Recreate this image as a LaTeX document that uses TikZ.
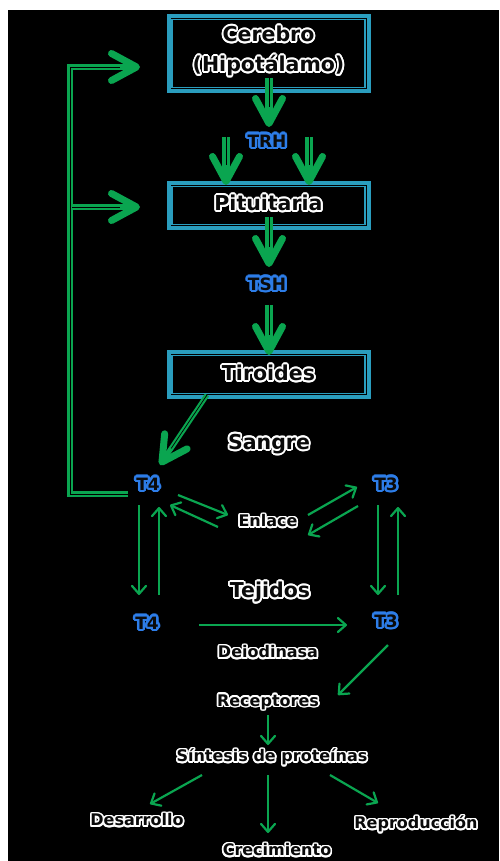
\documentclass[tikz,border=0pt]{standalone}
\usepackage{fontspec}
\setmainfont{DejaVu Sans}
\usetikzlibrary{arrows.meta,calc}

\definecolor{grn}{RGB}{10,165,80}
\definecolor{boxteal}{RGB}{42,157,190}
\definecolor{hblue}{RGB}{45,125,232}
\definecolor{ink}{RGB}{10,10,10}

% label with a rim: copies of the text on two rings in the rim colour,
% then the dark text itself on top
% #1 name, #2 position, #3 style, #4 rim colour, #5 rim radius, #6 text
\newcommand\rimlabel[6]{%
  \foreach \a in {0,20,...,340}{%
    \node[#3, text=#4] at ($(#2)+(\a:#5)$) {#6};
    \node[#3, text=#4] at ($(#2)+(\a:0.5*#5)$) {#6};}
  \node[#3, text=ink] (#1) at (#2) {#6};}

\begin{document}
\begin{tikzpicture}[x=1pt,y=-1pt,
  lbl/.style={font=\bfseries\fontsize{16}{20}\selectfont, inner sep=0pt},
  biglbl/.style={font=\bfseries\fontsize{20.5}{30}\selectfont, inner sep=0pt, align=center},
  hormone/.style={font=\bfseries\fontsize{17}{20}\selectfont, inner sep=0pt},
  organ/.style={draw=boxteal, line width=4pt, fill=black, minimum width=200pt},
  innerframe/.style={draw=boxteal, line width=1.2pt},
  bigtip/.style={-{Straight Barb[length=25pt,width=27pt,line width=7pt,round]}},
  bigarrow/.style={draw=grn, line width=#1, bigtip,
                   postaction={draw=black, line width=0.7pt, -, shorten >=20pt}},
  bigarrow/.default=8pt,
  fbline/.style={draw=grn, line width=5.5pt, line join=miter,
                 postaction={draw=black, line width=0.6pt, -, shorten >=20pt}},
  thin/.style={draw=grn, line width=2.2pt,
               -{Straight Barb[length=8pt,width=14pt,round]}}
]
\useasboundingbox (0,0) rectangle (499,861);
\fill[white] (0,0) rectangle (499,861);
\fill[black] (8,10) rectangle (499,861);

% glands
\node[organ, minimum height=75pt] (cer) at (268.5,53.5) {};
\node[organ, minimum height=45pt] (pit) at (268.5,205.5) {};
\node[organ, minimum height=45pt] (tir) at (268.5,374.5) {};
\foreach \b in {cer,pit,tir}
  \draw[innerframe] ([shift={(5.5,5.5)}]\b.north west)
                    rectangle ([shift={(-5.5,-5.5)}]\b.south east);
\rimlabel{cerT}{268.5,51}{biglbl}{white}{1.8}{Cerebro\\(Hipotálamo)}
\rimlabel{pitT}{268.5,203}{biglbl}{white}{1.8}{Pituitaria}
\rimlabel{tirT}{268.5,373}{biglbl}{white}{1.8}{Tiroides}

% hormones
\rimlabel{trh}{267,141}{hormone}{hblue}{2.4}{TRH}
\rimlabel{tsh}{267,284}{hormone}{hblue}{2.4}{TSH}
\rimlabel{t4a}{148,484}{hormone}{hblue}{2.4}{T4}
\rimlabel{t3a}{386,484}{hormone}{hblue}{2.4}{T3}
\rimlabel{t4b}{147,623}{hormone}{hblue}{2.4}{T4}
\rimlabel{t3b}{386,621}{hormone}{hblue}{2.4}{T3}

% other labels
\rimlabel{sangre}{269,444}{biglbl}{white}{1.8}{Sangre}
\rimlabel{tejidos}{270,592}{biglbl}{white}{1.8}{Tejidos}
\rimlabel{enlace}{268,521}{lbl}{white}{1.6}{Enlace}
\rimlabel{deio}{268,652}{lbl}{white}{1.6}{Deiodinasa}
\rimlabel{rec}{268,702}{lbl}{white}{1.6}{Receptores}
\rimlabel{sint}{272,757}{lbl}{white}{1.6}{Síntesis de proteínas}
\rimlabel{des}{137,820}{lbl}{white}{1.6}{Desarrollo}
\rimlabel{cre}{277,850}{lbl}{white}{1.6}{Crecimiento}
\rimlabel{rep}{416,824}{lbl}{white}{1.6}{Reproducción}

% end points of the connectors
\coordinate (cerOut) at (269,78);   \coordinate (trhIn)  at (269,127);
\coordinate (trhL)   at (226,137);  \coordinate (pitL)   at (226,185);
\coordinate (trhR)   at (309,137);  \coordinate (pitR)   at (309,185);
\coordinate (pitOut) at (269,217);  \coordinate (tshIn)  at (269,267);
\coordinate (tshOut) at (269,305);  \coordinate (tirIn)  at (269,355);
\coordinate (tirOut) at (207,395);  \coordinate (t4In)   at (160,465);
\coordinate (fbA) at (128,494);     \coordinate (fbB) at (70,494);
\coordinate (fbC) at (70,67);       \coordinate (fbCer) at (140,67);
\coordinate (fbD) at (72,207);      \coordinate (fbPit) at (140,207);

% hypothalamus - pituitary - thyroid axis
\draw[bigarrow] (cerOut) -- (trhIn);
\draw[bigarrow] (trhL) -- (pitL);
\draw[bigarrow] (trhR) -- (pitR);
\draw[bigarrow] (pitOut) -- (tshIn);
\draw[bigarrow] (tshOut) -- (tirIn);
\draw[bigarrow=5pt] (tirOut) -- (t4In);

% negative feedback from T4
\draw[fbline, bigtip] (fbA) -- (fbB) -- (fbC) -- (fbCer);
\draw[fbline, bigtip] (fbD) -- (fbPit);

% binding in blood
\draw[thin] (178,495) -- (228,515);
\draw[thin] (218,527) -- (170,505);
\draw[thin] (308,515) -- (357,487);
\draw[thin] (358,506) -- (308,535);

% exchange between blood and tissues
\draw[thin] (139,505) -- (139,595);
\draw[thin] (159,595) -- (159,507);
\draw[thin] (378,505) -- (378,595);
\draw[thin] (398,595) -- (398,507);

% tissue pathway
\draw[thin] (199,625) -- (347,625);
\draw[thin] (388,645) -- (338,695);
\draw[thin] (268,715) -- (268,745);
\draw[thin] (202,775) -- (150,804);
\draw[thin] (268,775) -- (268,833);
\draw[thin] (330,775) -- (378,803);
\end{tikzpicture}
\end{document}
